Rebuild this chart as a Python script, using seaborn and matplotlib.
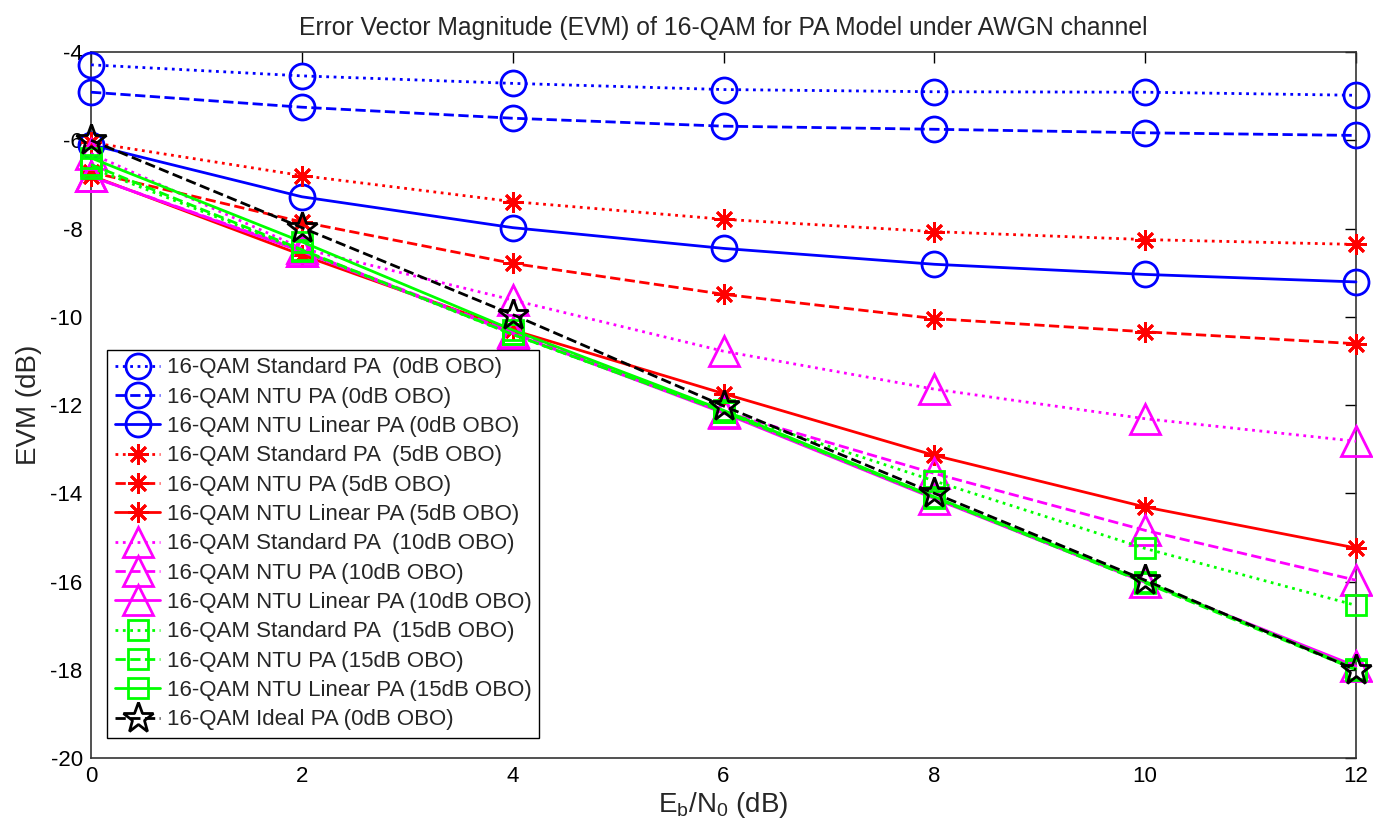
import numpy as np
import pandas as pd
import matplotlib
matplotlib.use("Agg")
import matplotlib.pyplot as plt
import seaborn as sns

# ---- data ----
ebn0 = [0, 2, 4, 6, 8, 10, 12]

std_0 = [-4.29, -4.54, -4.71, -4.85, -4.90, -4.91, -4.98]
ntu_0 = [-4.91, -5.25, -5.50, -5.68, -5.75, -5.83, -5.89]
lin_0 = [-6.10, -7.28, -7.98, -8.45, -8.81, -9.04, -9.21]

std_5 = [-6.05, -6.80, -7.39, -7.79, -8.07, -8.25, -8.36]
ntu_5 = [-6.72, -7.85, -8.79, -9.49, -10.04, -10.34, -10.61]
lin_5 = [-6.80, -8.60, -10.30, -11.74, -13.14, -14.31, -15.24]

std_10 = [-6.30, -8.45, -9.62, -10.78, -11.64, -12.31, -12.82]
ntu_10 = [-6.82, -8.50, -10.35, -12.15, -13.55, -14.84, -15.97]
lin_10 = [-6.82, -8.52, -10.38, -12.18, -14.12, -16.02, -17.92]

std_15 = [-6.62, -8.50, -10.40, -12.15, -13.72, -15.25, -16.54]
ntu_15 = [-6.55, -8.48, -10.40, -12.15, -14.10, -16.03, -18.00]
lin_15 = [-6.40, -8.30, -10.30, -12.12, -14.08, -16.00, -17.98]

ideal = [-6.00, -7.98, -9.95, -12.02, -14.00, -15.97, -18.00]

labels = [
    "16-QAM Standard PA  (0dB OBO)",
    "16-QAM NTU PA (0dB OBO)",
    "16-QAM NTU Linear PA (0dB OBO)",
    "16-QAM Standard PA  (5dB OBO)",
    "16-QAM NTU PA (5dB OBO)",
    "16-QAM NTU Linear PA (5dB OBO)",
    "16-QAM Standard PA  (10dB OBO)",
    "16-QAM NTU PA (10dB OBO)",
    "16-QAM NTU Linear PA (10dB OBO)",
    "16-QAM Standard PA  (15dB OBO)",
    "16-QAM NTU PA (15dB OBO)",
    "16-QAM NTU Linear PA (15dB OBO)",
    "16-QAM Ideal PA (0dB OBO)",
]
series = [std_0, ntu_0, lin_0, std_5, ntu_5, lin_5,
          std_10, ntu_10, lin_10, std_15, ntu_15, lin_15, ideal]

# ---- styles ----
colors = ["#0000ff"] * 3 + ["#ff0000"] * 3 + ["#ff00ff"] * 3 + ["#00ff00"] * 3 + ["#000000"]
lstyles = [":", "--", "-"] * 4 + ["--"]
asterisk = (8, 2, 0)
markers = ["o"] * 3 + [asterisk] * 3 + ["^"] * 3 + ["s"] * 3 + ["*"]
msizes = [18] * 3 + [15] * 3 + [21] * 3 + [14] * 3 + [23]

sns.set_theme(style="white")
plt.rcParams["font.family"] = ["Liberation Sans", "DejaVu Sans"]
plt.rcParams["axes.unicode_minus"] = False
plt.rcParams["xtick.direction"] = "in"
plt.rcParams["ytick.direction"] = "in"

fig = plt.figure(figsize=(13.73, 8.30), dpi=100)
ax = fig.add_axes([0.0663, 0.0867, 0.9213, 0.8506])

for y, lab, c, ls, m, ms in zip(series, labels, colors, lstyles, markers, msizes):
    df = pd.DataFrame({"x": ebn0, "y": y})
    sns.lineplot(data=df, x="x", y="y", ax=ax, color=c, linestyle=ls,
                 linewidth=2, marker=m, markersize=ms, markerfacecolor="none",
                 markeredgecolor=c, markeredgewidth=2, label=lab,
                 clip_on=False, zorder=3)

ax.set_xlim(0, 12)
ax.set_ylim(-20, -4)
ax.set_xticks(ebn0)
ax.set_yticks(np.arange(-20, -3, 2))
ax.tick_params(axis="both", which="both", direction="in", length=8, width=1,
               top=True, right=True, labelsize=16, colors="black", pad=6)
for sp in ax.spines.values():
    sp.set_color("#333333")
    sp.set_linewidth(1.2)

ax.set_title("Error Vector Magnitude (EVM) of 16-QAM for PA Model under AWGN channel",
             fontsize=17.8, pad=12)
ax.set_xlabel(r"E$_\mathregular{b}$/N$_\mathregular{0}$ (dB)", fontsize=20, labelpad=2)
ax.set_ylabel("EVM (dB)", fontsize=20, labelpad=6)

leg = ax.legend(loc="lower left", bbox_to_anchor=(0.0126, 0.028), borderaxespad=0,
                fontsize=16, frameon=True, fancybox=False, framealpha=1,
                edgecolor="black", handlelength=2.05, handletextpad=0.3,
                labelspacing=0.375, borderpad=0.35, numpoints=1)
leg.get_frame().set_linewidth(1)

fig.savefig("out.png", dpi=100)
